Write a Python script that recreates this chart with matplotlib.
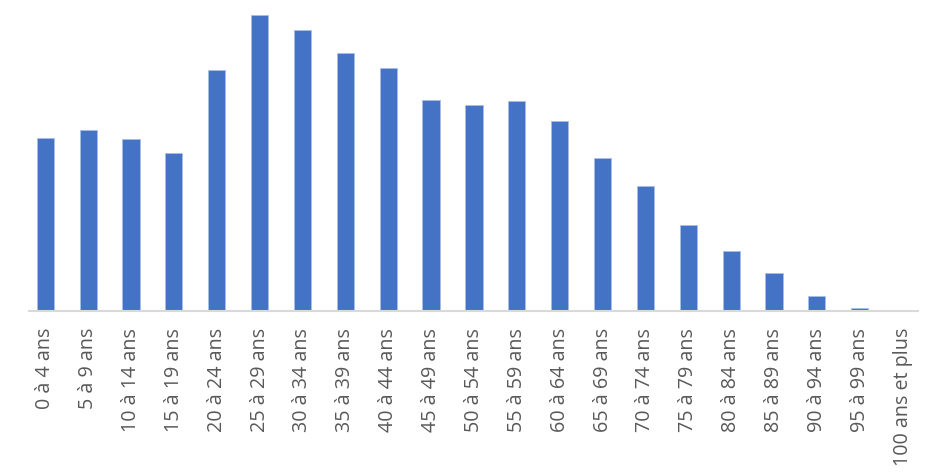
import matplotlib
matplotlib.use("Agg")
import matplotlib.pyplot as plt
import numpy as np

# age groups and population counts (relative units)
age_groups = ["0 à 4 ans", "5 à 9 ans", "10 à 14 ans", "15 à 19 ans", "20 à 24 ans",
              "25 à 29 ans", "30 à 34 ans", "35 à 39 ans", "40 à 44 ans", "45 à 49 ans",
              "50 à 54 ans", "55 à 59 ans", "60 à 64 ans", "65 à 69 ans", "70 à 74 ans",
              "75 à 79 ans", "80 à 84 ans", "85 à 89 ans", "90 à 94 ans", "95 à 99 ans",
              "100 ans et plus"]
population = [172.7, 181.3, 172.0, 158.0, 240.7, 296.0, 281.0, 258.0, 243.0, 211.0,
              206.0, 210.0, 190.0, 152.7, 125.0, 85.7, 60.0, 38.3, 15.3, 2.7, 0.2]

W, H = 945, 474
fig = plt.figure(figsize=(W / 100, H / 100), dpi=100)
ax = fig.add_axes([29 / W, (H - 311) / H, (918 - 29) / W, 311 / H])

x = np.arange(len(age_groups))
ax.bar(x, population, width=0.4, color="#4472C4", edgecolor="#A9BEE6", linewidth=0.6)

ax.set_xlim(-0.38, 20.36)
ax.set_ylim(0, 311)
ax.set_xticks(x)
ax.set_xticklabels(age_groups, rotation=90, fontsize=14.2, color="#595959",
                   family=["Open Sans", "DejaVu Sans"])
ax.tick_params(axis="x", length=0, pad=12)
ax.set_yticks([])

for side in ["top", "right", "left"]:
    ax.spines[side].set_visible(False)
ax.spines["bottom"].set_color("#D9D9D9")
ax.spines["bottom"].set_linewidth(1.5)

fig.savefig("out.png", dpi=100)
